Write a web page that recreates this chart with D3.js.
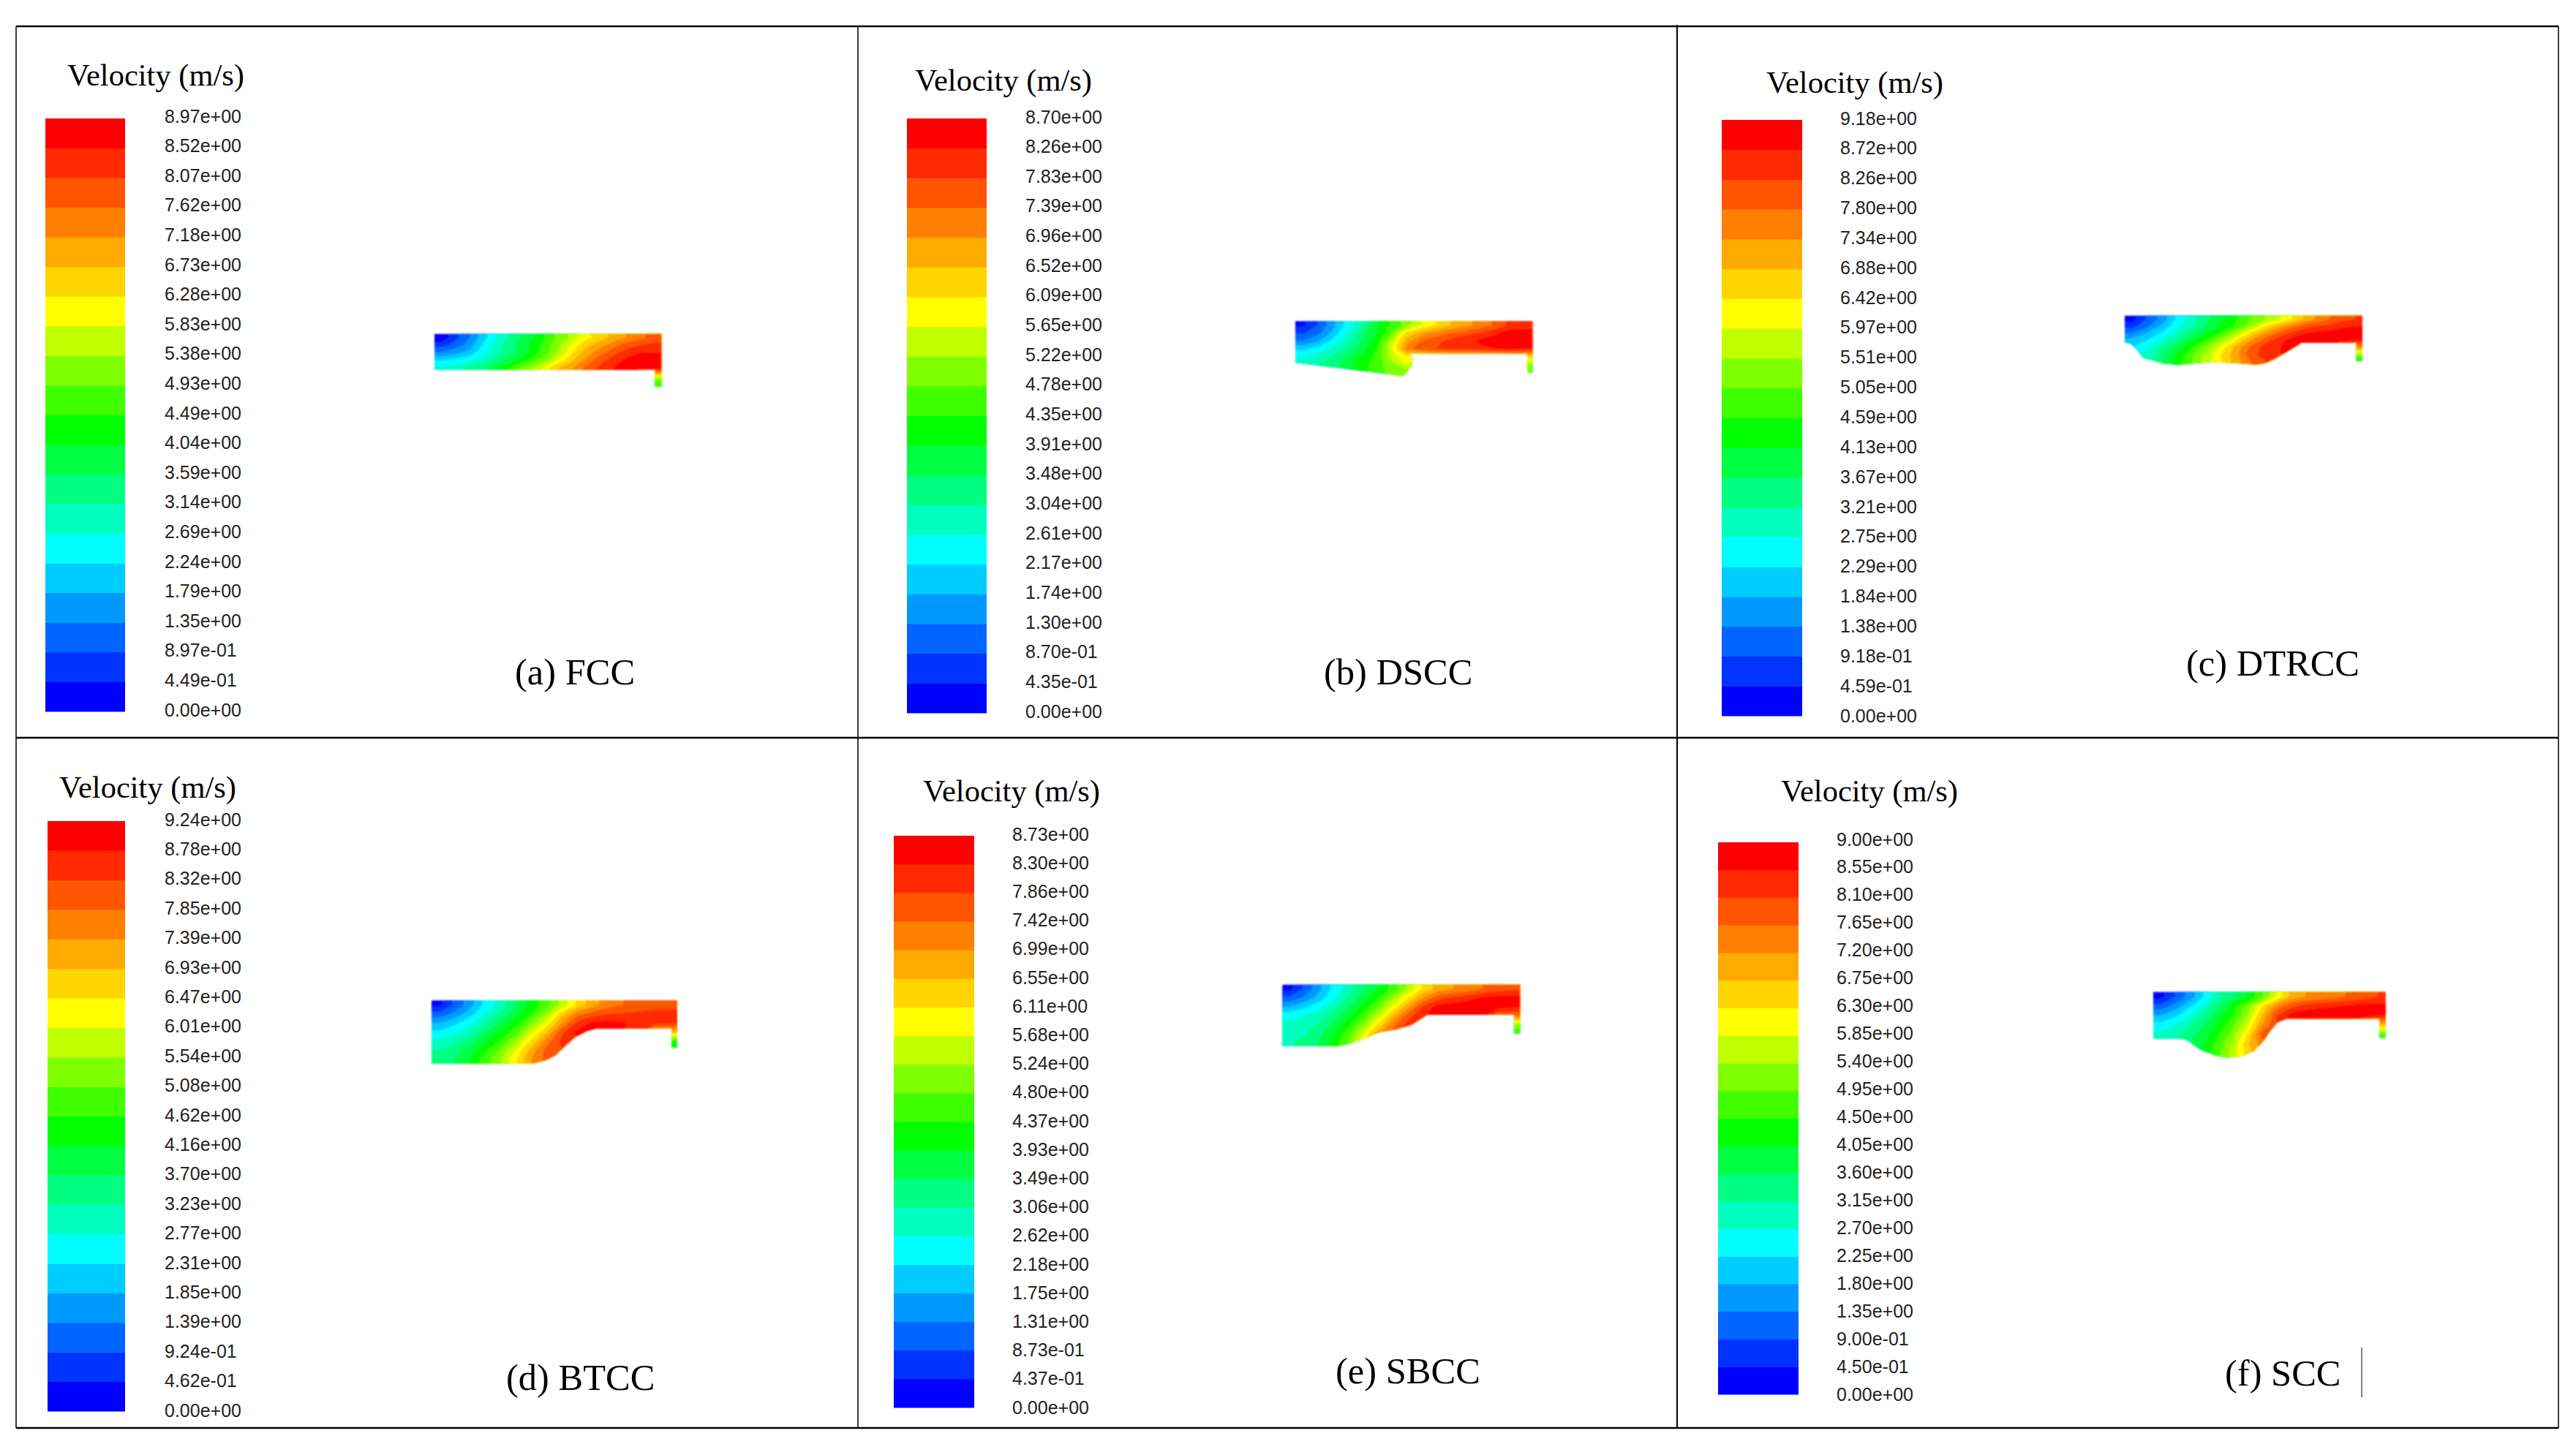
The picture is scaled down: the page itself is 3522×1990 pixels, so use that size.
<!DOCTYPE html>
<html>
<head>
<meta charset="utf-8">
<title>Velocity contours</title>
<script src="https://cdn.jsdelivr.net/npm/d3@7"></script>
<style>
  html, body { margin: 0; padding: 0; background: #fff; }
  .title, .caption { font-family: "Liberation Serif", serif; fill: #000; }
  .title { font-size: 42.5px; }
  .caption { font-size: 50.5px; }
  .legend text { font-family: "Liberation Sans", sans-serif; font-size: 25px; fill: #222; }
</style>
</head>
<body>
<svg id="chart" width="3522" height="1990"></svg>
<script>
// colour bands, bottom to top
var bandColors = ["#0000ff", "#0033ff", "#0066ff", "#0099ff", "#00ccff", "#00ffff", "#00ffbf", "#00ff80", "#00ff40", "#00ff00",
                  "#40ff00", "#80ff00", "#bfff00", "#ffff00", "#ffd500", "#ffaa00", "#ff8000", "#ff5500", "#ff2a00", "#ff0000"];

// colour bar tick labels, top to bottom
var ticksFCC = ["8.97e+00","8.52e+00","8.07e+00","7.62e+00","7.18e+00","6.73e+00","6.28e+00","5.83e+00","5.38e+00","4.93e+00","4.49e+00","4.04e+00","3.59e+00","3.14e+00","2.69e+00","2.24e+00","1.79e+00","1.35e+00","8.97e-01","4.49e-01","0.00e+00"];
var ticksDSCC = ["8.70e+00","8.26e+00","7.83e+00","7.39e+00","6.96e+00","6.52e+00","6.09e+00","5.65e+00","5.22e+00","4.78e+00","4.35e+00","3.91e+00","3.48e+00","3.04e+00","2.61e+00","2.17e+00","1.74e+00","1.30e+00","8.70e-01","4.35e-01","0.00e+00"];
var ticksDTRCC = ["9.18e+00","8.72e+00","8.26e+00","7.80e+00","7.34e+00","6.88e+00","6.42e+00","5.97e+00","5.51e+00","5.05e+00","4.59e+00","4.13e+00","3.67e+00","3.21e+00","2.75e+00","2.29e+00","1.84e+00","1.38e+00","9.18e-01","4.59e-01","0.00e+00"];
var ticksBTCC = ["9.24e+00","8.78e+00","8.32e+00","7.85e+00","7.39e+00","6.93e+00","6.47e+00","6.01e+00","5.54e+00","5.08e+00","4.62e+00","4.16e+00","3.70e+00","3.23e+00","2.77e+00","2.31e+00","1.85e+00","1.39e+00","9.24e-01","4.62e-01","0.00e+00"];
var ticksSBCC = ["8.73e+00","8.30e+00","7.86e+00","7.42e+00","6.99e+00","6.55e+00","6.11e+00","5.68e+00","5.24e+00","4.80e+00","4.37e+00","3.93e+00","3.49e+00","3.06e+00","2.62e+00","2.18e+00","1.75e+00","1.31e+00","8.73e-01","4.37e-01","0.00e+00"];
var ticksSCC = ["9.00e+00","8.55e+00","8.10e+00","7.65e+00","7.20e+00","6.75e+00","6.30e+00","5.85e+00","5.40e+00","4.95e+00","4.50e+00","4.05e+00","3.60e+00","3.15e+00","2.70e+00","2.25e+00","1.80e+00","1.35e+00","9.00e-01","4.50e-01","0.00e+00"];

// chamber outlines, in the same local units as the width/height in the panel table
var outlineFCC = [[0,0],[931,0],[931,217],[905,217],[905,147],[0,147]];
var outlineDSCC = [[0,0],[973,0],[973,210],[951,210],[951,133],[465,133],[482,150],[478,178],[458,208],[442,225],[0,170]];
var outlineDTRCC = [[0,0],[975,0],[975,187],[950,187],[950,112],[725,112],[700,128],[660,152],[610,180],[575,195],[540,201],[450,195],[350,190],[280,197],[220,203],[155,195],[75,173],[50,140],[25,115],[0,110]];
var outlineBTCC = [[0,0],[1008,0],[1008,193],[985,193],[985,115],[680,115],[640,125],[590,150],[550,185],[510,225],[470,245],[420,258],[0,260]];
var outlineSBCC = [[0,0],[975,0],[975,202],[950,202],[950,123],[595,123],[530,165],[470,183],[400,195],[340,220],[270,245],[220,253],[0,253]];
var outlineSCC = [[0,0],[953,0],[953,188],[928,188],[928,110],[550,110],[510,125],[480,160],[450,205],[410,245],[360,265],[300,270],[250,260],[190,235],[150,205],[125,192],[0,192]];

var fieldFCC = [
  [0.3,1.7,3.0,4.7,6.2,7.4,8.4,9.6,11,12.1,13.5,14.4,15.2,16,16.7,17.5],
  [1.6,2.5,3.5,5.3,6.6,7.8,8.8,10,11.4,13,14.5,15.5,16.5,17.5,18,18.3],
  [3.2,3.7,4.5,5.7,6.8,7.8,8.9,10.2,11.7,13.6,15.2,16.5,17.5,18.5,19,19],
  [5.0,5.3,5.9,6.6,7.5,8.7,9.9,11.2,12.8,14.6,16,17.4,18.4,19.2,19.6,19.5],
  [6.2,6.6,7.2,7.8,9,10.4,11.6,12.8,14.8,15.6,17,18.1,18.9,19.5,19.6,19.5],
  [6.4,6.8,7.4,8,9.2,10.6,11.8,13,15,16,17.2,18.2,19,19.5,14,14],
  [6.5,6.9,7.5,8.1,9.3,10.7,11.9,13.1,15,16,17.2,18.2,19,19.5,10,10]];
var fieldDSCC = [
  [0.8,2,3.7,5.4,6.9,8.9,10.2,11.5,13,14,15,15.7,16.4,17.2,18.3,18.5],
  [1.9,2.7,4.2,6,7.6,9,10.8,14.2,15.6,16.5,17,17.6,18.2,18.8,19.6,19.5],
  [3,3.8,5.2,6.6,8,9.4,12.6,15.5,17,17.7,18.3,18.7,19.2,19.6,19.7,19.6],
  [4.8,5.3,6.2,7.2,8.5,10,13,16.5,17.8,18,18.5,18.5,18.8,19,19.2,19],
  [5.8,6.4,7,8,9.2,10.3,12.6,14,13,14,14,14,14,14,14.5,14.5],
  [6.6,7,7.6,8.5,9.5,10.6,11.6,13,12,12,12,12,12,12,12,12],
  [7,7.5,8,8.8,9.6,10.7,11.2,11.5,11.5,11,11,11,11,11,11,11]];
var fieldDTRCC = [
  [0.6,2.1,3.4,5.2,6.6,7.7,8.9,9.9,11,12,13,14.3,15.7,16.7,17.6,18],
  [1.6,2.8,4.3,5.6,6.9,8,9.1,10.2,12,14,15.6,17,17.9,18.2,18.7,19],
  [3,4.1,5.2,6.4,7.7,8.9,10.2,12.1,14.2,16,17.4,18.6,19.2,19.5,19.6,19.4],
  [4.4,5,6.2,7.3,8.8,10.1,12,14,16,17.6,18.8,19.5,19.5,19.5,19.4,19],
  [5,5.8,7.1,8.5,10,11.6,13.4,15.4,17.3,18.5,19,19,19,19,16,16],
  [6,6.3,7.6,9.1,10.7,12.3,14,15.7,17.6,18.5,19,19,19,19,12,12],
  [6.2,6.6,8,9.5,11,12.5,14,15.5,17,18,18,18,18,18,9,9]];
var fieldBTCC = [
  [0.7,2.2,3.6,5.3,6.5,8,9.4,10.6,12.4,14.2,15.6,16.5,17,17.2,17.5,17.6],
  [2.4,3.3,4.6,6,7.3,8.5,10,12,14.6,16.6,17.5,18,18.1,18.3,18.4,18.4],
  [4,4.8,5.7,7,8.3,9.6,11.4,13.4,16,18.3,19.2,19.3,19.1,18.6,18.4,18.3],
  [5.2,5.8,6.6,7.9,9.2,10.6,12.8,15,17.8,19.3,19.3,19.2,19,18.6,15,15],
  [6.3,6.8,7.6,8.9,10.1,12,14.2,16.5,18.3,19,19,19,19,19,10,10],
  [7,7.5,8.5,9.8,11.2,13.1,15.4,17.4,18,18,18,18,18,18,9,9],
  [7.4,8,9,10.5,12,13.9,16,17.4,18,18,18,18,18,18,9,9]];
var fieldSBCC = [
  [0.7,2.2,3.8,5.4,6.7,7.9,9.1,10.5,12.3,14.2,15.5,16,16.5,17,17.5,17.8],
  [2.3,3.2,4.5,5.9,7.3,8.6,10,12,14,16.1,17.6,18.3,18.7,19.2,19.5,19.3],
  [4,4.8,5.6,6.7,8,9.4,11.2,13.4,15.8,18.2,19.4,19.5,19.5,19.5,19.5,19.2],
  [5.7,6,6.5,7.6,8.9,10.4,12.6,15.2,17.6,18.9,19.5,19.5,19.5,19.5,17,17],
  [6.3,6.6,7.2,8.3,9.8,11.7,14.2,16.7,18.5,19,19,19,19,19,12,12],
  [6.6,6.9,7.7,9,10.6,13,15.8,17.5,18.5,19,19,19,19,19,10,10],
  [6.9,7.2,8.1,9.5,11.2,14,16,17.5,18.5,19,19,19,19,19,10,10]];
var fieldSCC = [
  [0.6,2,3.4,5.1,6.8,7.9,9.1,10.9,13.1,15.3,16,16.3,16.7,17.1,17.6,18],
  [2.3,3.4,4.8,6.2,7.9,9.4,11.4,14,16.4,17.7,18.5,18.8,18.9,19.2,19.4,19.3],
  [4,4.8,5.9,7.2,8.5,10,12,15,18,19.4,19.7,19.7,19.7,19.7,19.6,19],
  [5.4,6,6.9,8,9.2,10.9,13,16,18,19,19,19,19,19,15,15],
  [6.2,6.7,7.6,8.6,9.9,11.5,14,17.5,18,18,18,18,18,18,11,11],
  [6.5,7,8,9,10.5,12.2,14.8,16.5,17,17,17,17,17,17,9,9],
  [6.6,7.2,8.2,9.4,10.8,12.5,14.5,16,17,17,17,17,17,17,9,9]];

// where each panel sits on the page
var panels = [
  {ticks: ticksFCC, field: fieldFCC, outline: outlineFCC, w: 931, h: 217, left: 594, top: 456.7,
   bar: [62, 171, 162, 973], tickX: 225, tickY: [159, 971], titlePos: [92, 117], caption: "(a) FCC", capPos: [704, 936]},
  {ticks: ticksDSCC, field: fieldDSCC, outline: outlineDSCC, w: 973, h: 225, left: 1771, top: 439.3,
   bar: [1240, 1349, 162, 975], tickX: 1402, tickY: [160, 973], titlePos: [1251, 124], caption: "(b) DSCC", capPos: [1810, 936]},
  {ticks: ticksDTRCC, field: fieldDTRCC, outline: outlineDTRCC, w: 975, h: 203, left: 2905, top: 431.7,
   bar: [2354, 2464, 164, 979], tickX: 2516, tickY: [162, 979], titlePos: [2415, 127], caption: "(c) DTRCC", capPos: [2989, 924]},
  {ticks: ticksBTCC, field: fieldBTCC, outline: outlineBTCC, w: 1008, h: 260, left: 590, top: 1368.3,
   bar: [65, 171, 1123, 1930], tickX: 225, tickY: [1121, 1929], titlePos: [81, 1091], caption: "(d) BTCC", capPos: [692, 1901]},
  {ticks: ticksSBCC, field: fieldSBCC, outline: outlineSBCC, w: 975, h: 253, left: 1753.3, top: 1346.7,
   bar: [1222, 1332, 1143, 1925], tickX: 1384, tickY: [1141, 1925], titlePos: [1262, 1096], caption: "(e) SBCC", capPos: [1826, 1892]},
  {ticks: ticksSCC, field: fieldSCC, outline: outlineSCC, w: 953, h: 270, left: 2944, top: 1356.7,
   bar: [2349, 2459, 1152, 1907], tickX: 2511, tickY: [1148, 1907], titlePos: [2435, 1096], caption: "(f) SCC", capPos: [3042, 1895]}
];

var svg = d3.select("#chart");

svg.append("defs").append("filter")
    .attr("id", "soft")
    .attr("x", "-5%").attr("y", "-5%").attr("width", "110%").attr("height", "110%")
  .append("feGaussianBlur")
    .attr("stdDeviation", 0.8);

var levelColor = d3.scaleOrdinal().domain(d3.range(20)).range(bandColors);
var levels = d3.range(20);

// d3.contours cuts the grid corners, so repeat the edge cells once all round
// and let the clip path trim them
function padGrid(field) {
  var rows = field.map(function(r) { return [r[0]].concat(r, [r[r.length - 1]]); });
  return [rows[0]].concat(rows, [rows[rows.length - 1]]);
}

panels.forEach(function(p, pi) {
  var g = svg.append("g");

  g.append("text")
      .attr("class", "title")
      .attr("x", p.titlePos[0])
      .attr("y", p.titlePos[1])
      .text("Velocity (m/s)");

  g.append("text")
      .attr("class", "caption")
      .attr("x", p.capPos[0])
      .attr("y", p.capPos[1])
      .text(p.caption);

  // colour bar
  var barY = d3.scaleBand()
      .domain(levels.slice().reverse())
      .range([p.bar[2], p.bar[3]]);

  g.selectAll("rect.band")
      .data(levels)
    .enter().append("rect")
      .attr("class", "band")
      .attr("x", p.bar[0])
      .attr("y", function(d) { return barY(d); })
      .attr("width", p.bar[1] - p.bar[0])
      .attr("height", barY.bandwidth() + 0.5)
      .attr("fill", function(d) { return levelColor(d); });

  var tickY = d3.scalePoint().domain(p.ticks).range(p.tickY);

  g.append("g")
      .attr("class", "legend")
      .attr("transform", "translate(" + p.tickX + ",0)")
      .call(d3.axisRight(tickY).tickSize(0).tickPadding(0))
      .call(function(a) { a.select(".domain").remove(); });

  // contour plot
  var grid = padGrid(p.field),
      rows = grid.length,
      cols = grid[0].length,
      unit = 1 / 3;

  var x = d3.scaleLinear().domain([0, p.w]).range([p.left, p.left + p.w * unit]);
  var y = d3.scaleLinear().domain([0, p.h]).range([p.top, p.top + p.h * unit]);
  var gridX = d3.scaleLinear().domain([1, cols - 1]).range([0, p.w]);
  var gridY = d3.scaleLinear().domain([1, rows - 1]).range([0, p.h]);

  var path = d3.geoPath(d3.geoTransform({
    point: function(a, b) { this.stream.point(x(gridX(a)), y(gridY(b))); }
  }));

  var contours = d3.contours()
      .size([cols, rows])
      .thresholds(levels)(d3.merge(grid));

  var clipId = "clip" + pi;
  svg.select("defs").append("clipPath")
      .attr("id", clipId)
    .append("polygon")
      .attr("points", p.outline.map(function(d) { return x(d[0]) + "," + y(d[1]); }).join(" "));

  g.append("g")
      .attr("filter", "url(#soft)")
    .append("g")
      .attr("clip-path", "url(#" + clipId + ")")
    .selectAll("path")
      .data(contours)
    .enter().append("path")
      .attr("d", path)
      .attr("fill", function(d) { return levelColor(d.value); });
});

// table rules
var ruleLines = [
  {x1: 22, y1: 36, x2: 3498, y2: 36, w: 2.5},
  {x1: 22, y1: 1009, x2: 3498, y2: 1009, w: 2.5},
  {x1: 22, y1: 1953, x2: 3498, y2: 1953, w: 2.5},
  {x1: 22, y1: 36, x2: 22, y2: 1953, w: 1.5},
  {x1: 1173, y1: 36, x2: 1173, y2: 1953, w: 1.5},
  {x1: 2293, y1: 34, x2: 2293, y2: 1953, w: 2},
  {x1: 3498, y1: 36, x2: 3498, y2: 1953, w: 1.5},
  {x1: 3229, y1: 1843, x2: 3229, y2: 1911, w: 1}
];

svg.selectAll("line.rule")
    .data(ruleLines)
  .enter().append("line")
    .attr("class", "rule")
    .attr("x1", function(d) { return d.x1; })
    .attr("y1", function(d) { return d.y1; })
    .attr("x2", function(d) { return d.x2; })
    .attr("y2", function(d) { return d.y2; })
    .attr("stroke", "#000")
    .attr("stroke-width", function(d) { return d.w; });
</script>
</body>
</html>
